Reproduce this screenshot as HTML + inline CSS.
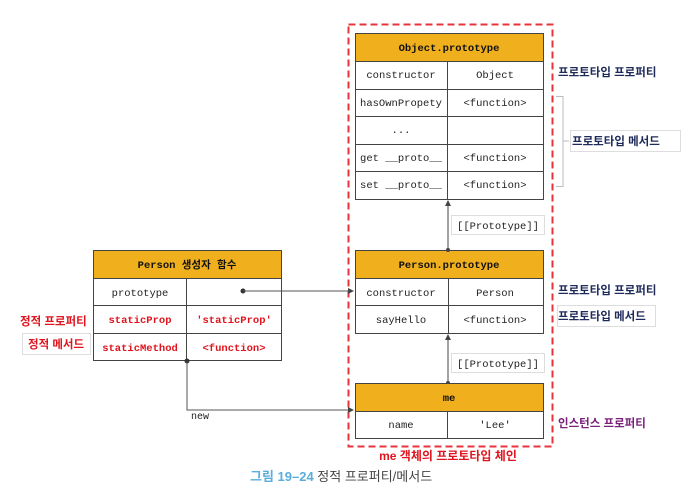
<!DOCTYPE html>
<html><head><meta charset="utf-8"><style>
html,body{margin:0;padding:0;background:#fff;}
svg{display:block;}
.m{font-family:"Liberation Mono","DejaVu Sans Mono",monospace;font-size:10.5px;fill:#222;}
.mb{font-family:"Liberation Mono","DejaVu Sans Mono","Noto Sans CJK KR",monospace;font-size:10.5px;font-weight:bold;fill:#111;}
.mr{font-family:"Liberation Mono","DejaVu Sans Mono",monospace;font-size:10.5px;font-weight:bold;fill:#e0141e;}
.k{font-family:"Liberation Sans","Noto Sans CJK KR",sans-serif;font-size:11.5px;font-weight:bold;}
</style></head><body>
<svg width="685" height="491" viewBox="0 0 685 491" xmlns="http://www.w3.org/2000/svg">
<defs><marker id="a" markerWidth="6" markerHeight="6" refX="5" refY="3" orient="auto"><path d="M0,0 L6,3 L0,6 z" fill="#444"/></marker></defs>
<rect x="348.5" y="24.5" width="204" height="422" fill="none" stroke="#e8333b" stroke-width="2" stroke-dasharray="7,4"/>
<!-- Object.prototype -->
<g stroke="#444" stroke-width="1" fill="#fff">
<rect x="355.5" y="33.5" width="188" height="166"/>
<rect x="355.5" y="33.5" width="188" height="28" fill="#f0b01e"/>
<line x1="355" y1="89.5" x2="543" y2="89.5"/><line x1="355" y1="116.5" x2="543" y2="116.5"/>
<line x1="355" y1="144.5" x2="543" y2="144.5"/><line x1="355" y1="171.5" x2="543" y2="171.5"/>
<line x1="447.5" y1="61" x2="447.5" y2="199"/>
</g>
<text class="mb" x="449" y="51" text-anchor="middle">Object.prototype</text>
<text class="m" x="401" y="78" text-anchor="middle">constructor</text><text class="m" x="495" y="78" text-anchor="middle">Object</text>
<text class="m" x="401" y="106" text-anchor="middle">hasOwnPropety</text><text class="m" x="495" y="106" text-anchor="middle">&lt;function&gt;</text>
<text class="m" x="401" y="133" text-anchor="middle">...</text>
<text class="m" x="401" y="161" text-anchor="middle">get __proto__</text><text class="m" x="495" y="161" text-anchor="middle">&lt;function&gt;</text>
<text class="m" x="401" y="188" text-anchor="middle">set __proto__</text><text class="m" x="495" y="188" text-anchor="middle">&lt;function&gt;</text>
<!-- proto arrows -->
<line x1="448" y1="250" x2="448" y2="201" stroke="#444" marker-end="url(#a)"/>
<rect x="451.5" y="215.5" width="93" height="19" fill="#fff" stroke="#ddd"/>
<text class="m" x="498" y="229" text-anchor="middle">[[Prototype]]</text>
<!-- Person.prototype -->
<g stroke="#444" fill="#fff">
<rect x="355.5" y="250.5" width="188" height="83"/>
<rect x="355.5" y="250.5" width="188" height="28" fill="#f0b01e"/>
<line x1="355" y1="305.5" x2="543" y2="305.5"/><line x1="448.5" y1="278" x2="448.5" y2="333"/>
</g>
<circle cx="448" cy="250" r="2" fill="#444"/>
<text class="mb" x="449" y="268" text-anchor="middle">Person.prototype</text>
<text class="m" x="401" y="296" text-anchor="middle">constructor</text><text class="m" x="495" y="296" text-anchor="middle">Person</text>
<text class="m" x="401" y="323" text-anchor="middle">sayHello</text><text class="m" x="495" y="323" text-anchor="middle">&lt;function&gt;</text>
<line x1="448" y1="383" x2="448" y2="335" stroke="#444" marker-end="url(#a)"/>
<circle cx="448" cy="383" r="2" fill="#444"/>
<rect x="451.5" y="353.5" width="93" height="19" fill="#fff" stroke="#ddd"/>
<text class="m" x="498" y="367" text-anchor="middle">[[Prototype]]</text>
<!-- me -->
<g stroke="#444" fill="#fff">
<rect x="355.5" y="383.5" width="188" height="55"/>
<rect x="355.5" y="383.5" width="188" height="28" fill="#f0b01e"/>
<line x1="447.5" y1="411" x2="447.5" y2="438"/>
</g>
<text class="mb" x="449" y="401" text-anchor="middle">me</text>
<text class="m" x="401" y="428" text-anchor="middle">name</text><text class="m" x="495" y="428" text-anchor="middle">'Lee'</text>
<!-- Person constructor -->
<g stroke="#444" fill="#fff">
<rect x="93.5" y="250.5" width="188" height="110"/>
<rect x="93.5" y="250.5" width="188" height="28" fill="#f0b01e"/>
<line x1="93" y1="305.5" x2="281" y2="305.5"/><line x1="93" y1="333.5" x2="281" y2="333.5"/>
<line x1="186.5" y1="278" x2="186.5" y2="360"/>
</g>
<text class="mb" x="187" y="268" text-anchor="middle" style="font-family:'Liberation Mono','Noto Sans CJK KR',monospace">Person 생성자 함수</text>
<text class="m" x="140" y="296" text-anchor="middle">prototype</text>
<text class="mr" x="140" y="323" text-anchor="middle">staticProp</text><text class="mr" x="234" y="323" text-anchor="middle">'staticProp'</text>
<text class="mr" x="140" y="351" text-anchor="middle">staticMethod</text><text class="mr" x="234" y="351" text-anchor="middle">&lt;function&gt;</text>
<circle cx="243" cy="291" r="2.5" fill="#333"/>
<line x1="243" y1="291" x2="353" y2="291" stroke="#555" marker-end="url(#a)"/>
<circle cx="187" cy="361" r="2.5" fill="#333"/>
<polyline points="187,361 187,410 353,410" fill="none" stroke="#555" marker-end="url(#a)"/>
<text class="m" x="191" y="419" style="font-size:10px">new</text>
<!-- labels -->
<text class="k" x="558" y="76" fill="#1e2a5a">프로토타입 프로퍼티</text>
<path d="M556,96.5 H563 V186.5 H556" fill="none" stroke="#bbb"/>
<line x1="563" y1="141" x2="569" y2="141" stroke="#bbb"/>
<rect x="570.5" y="130.5" width="110" height="21" fill="#fff" stroke="#ddd"/>
<text class="k" x="572" y="145" fill="#1e2a5a">프로토타입 메서드</text>
<text class="k" x="558" y="294" fill="#1e2a5a">프로토타입 프로퍼티</text>
<rect x="557.5" y="305.5" width="98" height="21" fill="#fff" stroke="#ddd"/>
<text class="k" x="558" y="320" fill="#1e2a5a">프로토타입 메서드</text>
<text class="k" x="558" y="427" fill="#7a1f7a">인스턴스 프로퍼티</text>
<text class="k" x="20" y="325" fill="#e0141e">정적 프로퍼티</text>
<rect x="22.5" y="333.5" width="68" height="21" fill="#fff" stroke="#ddd"/>
<text class="k" x="28" y="348" fill="#e0141e">정적 메서드</text>
<text class="k" x="448" y="460" text-anchor="middle" fill="#e0141e" style="font-size:12px">me 객체의 프로토타입 체인</text>
<text x="250" y="481" style="font-family:'Liberation Sans','Noto Sans CJK KR',sans-serif;font-size:13px"><tspan fill="#5aaedc" font-weight="bold">그림 19–24</tspan><tspan fill="#444"> 정적 프로퍼티/메서드</tspan></text>
</svg>
</body></html>
